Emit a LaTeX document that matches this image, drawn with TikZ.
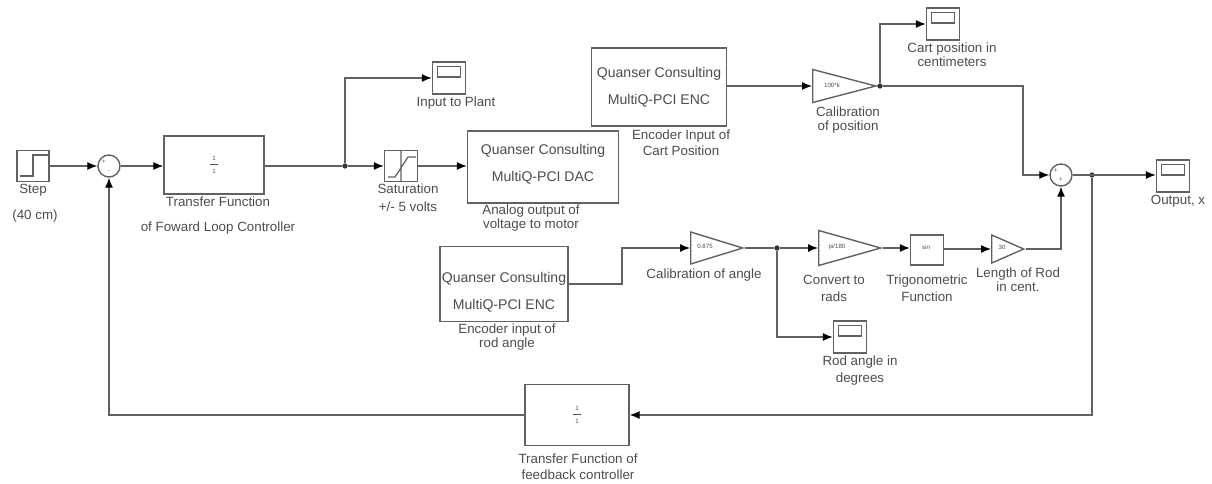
\documentclass[tikz,border=0pt]{standalone}
\usepackage{fontspec}
\setmainfont{Liberation Sans}
\usetikzlibrary{arrows.meta,shapes.geometric}
\definecolor{wire}{gray}{0.38}
\definecolor{lbl}{gray}{0.3}
\tikzset{
  block/.style={draw=wire, line width=0.8pt, fill=white, inner sep=0pt},
  small/.style={text=lbl, font=\fontsize{3.5}{4}\selectfont, inner sep=0pt},
  scopebox/.style={draw=wire, line width=0.8pt, minimum width=0.66cm, minimum height=0.64cm, inner sep=0pt, path picture={
    \draw[wire, line width=0.7pt] ([xshift=0.1cm,yshift=-0.09cm]path picture bounding box.north west) rectangle ([xshift=-0.1cm,yshift=0.34cm]path picture bounding box.south east);}},
  gain/.style={draw=wire, line width=0.8pt, isosceles triangle, isosceles triangle stretches, anchor=west, inner sep=0pt},
  sumblock/.style={draw=wire, line width=0.8pt, circle, minimum size=0.44cm, inner sep=0pt},
  tag/.style={text=lbl, font=\fontsize{7.6}{8.2}\selectfont, align=center, inner sep=0pt},
  quanser/.style={text=lbl, font=\fontsize{8}{15.3}\selectfont, align=center, inner sep=0pt},
  wired/.style={draw=wire, line width=0.7pt, -{Latex[length=2mm,width=1.6mm,black]}},
  plain/.style={draw=wire, line width=0.7pt},
  joint/.style={circle, fill=black!80, minimum size=3pt, inner sep=0pt}
}
\begin{document}
\begin{tikzpicture}[x=0.02cm, y=-0.02cm]
\useasboundingbox (0,0) rectangle (1212,483);

% top row
\node [block, minimum width=0.64cm, minimum height=0.62cm] (step) at (33,166) {};
\draw [plain] (20,176) -- (33,176) -- (33,155) -- (48,155);
\node [sumblock] (sumin) at (109,166) {};
\node [block, minimum width=2cm, minimum height=1.16cm] (tfwd) at (214,165) {};
\node [block, minimum width=0.66cm, minimum height=0.62cm] (sat) at (401,166) {};
\draw [plain] (401,151) -- (401,182) (388,177) -- (395,177) -- (408,157) -- (416,157);
\node [block, minimum width=3.02cm, minimum height=1.44cm] (dac) at (543,167) {};
\node [block, minimum width=2.7cm, minimum height=1.56cm] (enccart) at (659,87) {};
\node [scopebox] (scinput) at (449,78) {};
\node [scopebox] (sccart) at (943,24) {};
\node [scopebox] (scout) at (1173,176) {};
\node [gain, minimum height=1.26cm, minimum width=0.66cm] (gcart) at (812,86) {};
\node [sumblock] (sumout) at (1061,175) {};

% lower row
\node [block, minimum width=2.56cm, minimum height=1.5cm] (encrod) at (504,284) {};
\node [gain, minimum height=1.04cm, minimum width=0.64cm] (gangle) at (690,248) {};
\node [gain, minimum height=1.24cm, minimum width=0.7cm] (grads) at (818,248) {};
\node [block, minimum width=0.66cm, minimum height=0.6cm] (trig) at (927,250) {};
\node [gain, minimum height=0.64cm, minimum width=0.56cm] (glen) at (991,249) {};
\node [scopebox] (scrod) at (850,337) {};
\node [block, minimum width=2.08cm, minimum height=1.22cm] (tfb) at (577,415) {};

% texts inside the blocks
\node [quanser] (dactxt) at (543,164.5) {Quanser Consulting\\MultiQ-PCI DAC};
\node [quanser] (carttxt) at (659,87) {Quanser Consulting\\MultiQ-PCI ENC};
\node [quanser] (rodtxt) at (504,292) {Quanser Consulting\\MultiQ-PCI ENC};
\node [small] (tfwdtxt) at (214,165) {\shortstack{1\\[-1pt]\rule{4pt}{0.3pt}\\1}};
\node [small] (tfbtxt) at (577,415) {\shortstack{1\\[-1pt]\rule{4pt}{0.3pt}\\1}};
\node [small] (gcarttxt) at (832,85) {100*k};
\node [small] (gangletxt) at (705,246) {0.875};
\node [small] (gradstxt) at (837,247) {pi/180};
\node [small] (trigtxt) at (926,247) {sin};
\node [small] (glentxt) at (1002,247) {30};
\node [small] (suminp) at (104,162) {+};
\node [small] (suminm) at (109,172) {-};
\node [small] (sumoutp) at (1056,171) {+};
\node [small] (sumoutq) at (1061,180) {+};

% junctions
\node [joint] (jsat) at (345,166) {};
\node [joint] (jcart) at (880,86) {};
\node [joint] (jrod) at (777,248) {};
\node [joint] (jout) at (1092,175) {};

% connectors
\draw [wired] (step) -- (sumin);
\draw [wired] (sumin) -- (sumin -| tfwd.west);
\draw [plain] (tfwd.east |- jsat) -- (jsat);
\draw [wired] (jsat) -- (sat);
\draw [wired] (sat) -- (sat -| dac.west);
\draw [wired] (jsat) |- (scinput);
\draw [wired] (enccart.east |- gcart.west) -- (gcart.west);
\draw [plain] (gcart.apex) -- (jcart);
\draw [wired] (jcart) |- (sccart);
\draw [wired] (jcart) -- (1023,86) |- (sumout);
\draw [wired] (sumout) -- (sumout -| scout.west);
\draw [wired] (encrod.east) -- (622,284) |- (gangle.west);
\draw [plain] (gangle.apex) -- (jrod);
\draw [wired] (jrod) -- (grads.west);
\draw [wired] (grads.apex) -- (trig.west |- grads.apex);
\draw [wired] (trig.east |- glen.west) -- (glen.west);
\draw [wired] (glen.apex) -| (sumout.south);
\draw [wired] (jrod) |- (scrod);
\draw [wired] (jout) |- (tfb.east);
\draw [wired] (tfb.west) -| (sumin.south);

% labels
\node [tag] (tstep) at (33,190) {Step};
\node [tag] (tcm) at (35,216) {(40 cm)};
\node [tag] (ttf) at (218,202) {Transfer Function};
\node [tag] (tloop) at (218,228) {of Foward Loop Controller};
\node [tag] (tsat) at (408,198) {Saturation\\[2pt]+/- 5 volts};
\node [tag] (tplant) at (456,103) {Input to Plant};
\node [tag] (tdac) at (531,218) {Analog output of\\voltage to motor};
\node [tag] (tcart) at (681,143) {Encoder Input of\\[1pt]Cart Position};
\node [tag] (tcal) at (848,120) {Calibration\\of position};
\node [tag] (tccm) at (952,55) {Cart position in\\centimeters};
\node [tag] (tout) at (1178,201) {Output, x};
\node [tag] (trod) at (507,337) {Encoder input of\\rod angle};
\node [tag] (tang) at (704,275) {Calibration of angle};
\node [tag] (trads) at (834,288) {Convert to\\[1.5pt]rads};
\node [tag] (ttrig) at (927,288) {Trigonometric\\[1.5pt]Function};
\node [tag] (tlen) at (1018,280) {Length of Rod\\in cent.};
\node [tag] (tdeg) at (860,370.5) {Rod angle in\\[1pt]degrees};
\node [tag] (tfbk) at (578,467) {Transfer Function of\\[1pt]feedback controller};
\end{tikzpicture}
\end{document}
